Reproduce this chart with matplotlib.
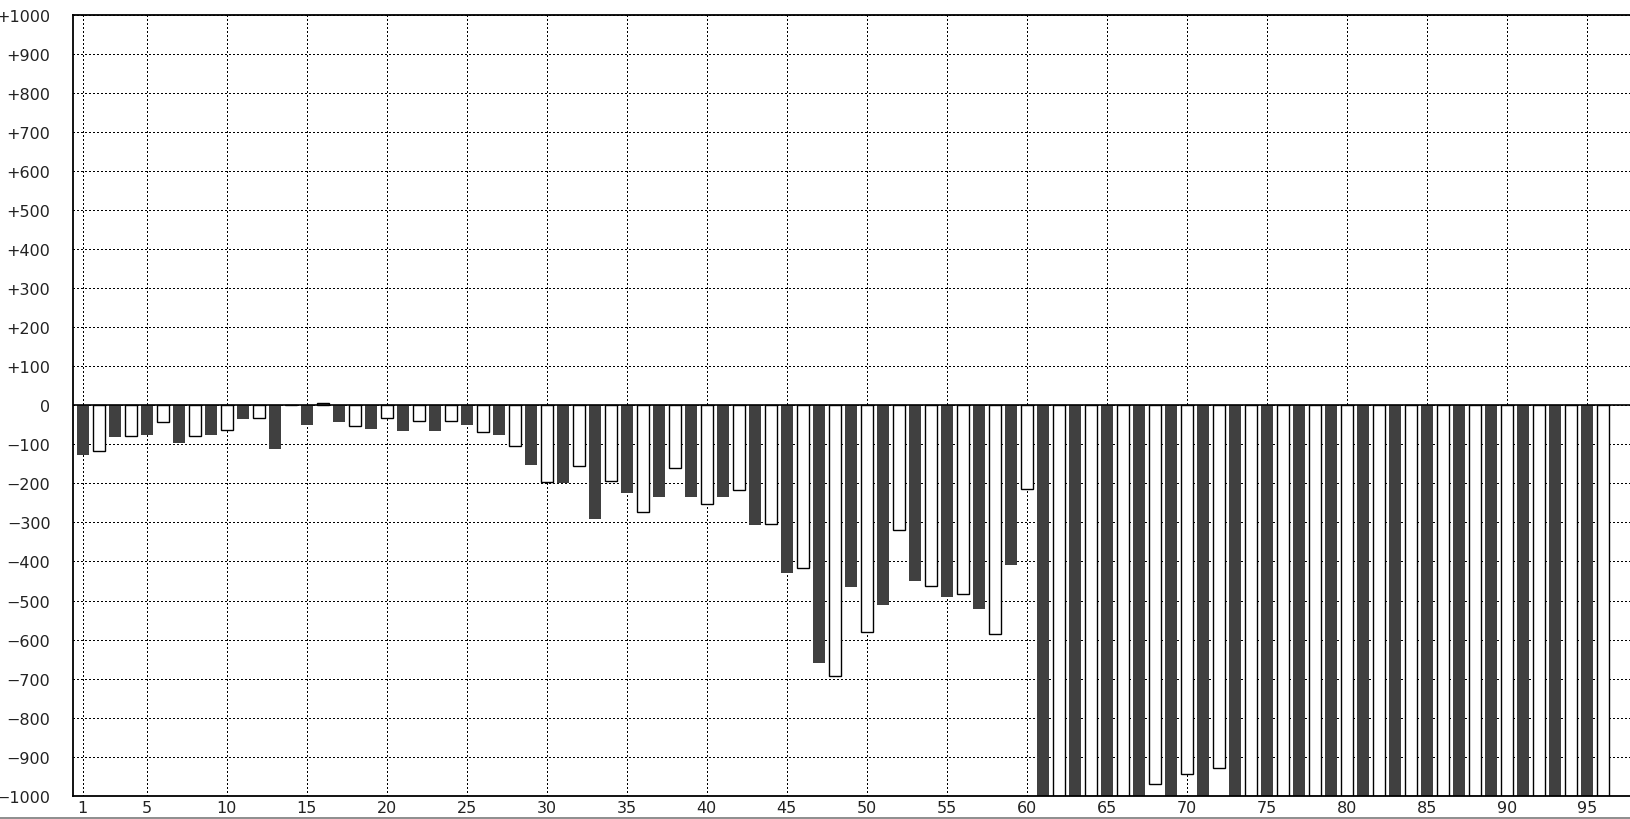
import matplotlib
matplotlib.use('Agg')
import matplotlib.pyplot as plt
from matplotlib.patches import Rectangle

# bar values per position (odd = dark bars, even = white bars)
positions = list(range(1, 97))
values = [-127, -118, -80, -79, -75, -43, -96, -79, -75, -64,
          -35, -33, -111, 0, -50, 5, -43, -53, -60, -33,
          -65, -39, -65, -39, -50, -69, -75, -105, -152, -197,
          -198, -156, -291, -195, -224, -273, -234, -161, -234, -253,
          -234, -217, -306, -304, -429, -417, -659, -693, -465, -581,
          -511, -320, -449, -463, -490, -483, -521, -586, -408, -215,
          -1000, -1000, -1000, -1000, -1000, -1000, -1000, -970, -1000, -944,
          -1000, -929, -1000, -1000, -1000, -1000, -1000, -1000, -1000, -1000,
          -1000, -1000, -1000, -1000, -1000, -1000, -1000, -1000, -1000, -1000,
          -1000, -1000, -1000, -1000, -1000, -1000]
xticks = [1] + list(range(5, 100, 5))
yticks = list(range(-1000, 1001, 100))
ylabels = ['0' if v == 0 else ('+%d' % v if v > 0 else '\u2212%d' % -v) for v in yticks]

fig = plt.figure(figsize=(16.3, 8.2), dpi=100)
ax = fig.add_axes([72.7 / 1630, 1 - 796.7 / 820, 1 - 72.7 / 1630, (796.7 - 16) / 820])

dark_x = [p for p in positions if p % 2 == 1]
dark_v = [values[p - 1] for p in dark_x]
white_x = [p for p in positions if p % 2 == 0]
white_v = [values[p - 1] for p in white_x]

ax.bar(dark_x, dark_v, width=0.75, color='#404040', linewidth=0, zorder=2)
ax.bar(white_x, white_v, width=0.75, facecolor='white', edgecolor='black', linewidth=1.0, zorder=2)
ax.axhline(0, color='black', linewidth=1.2, zorder=3)

ax.set_xlim(0.375, 1 + (1630 - 82.7) / 16)
ax.set_ylim(-1000, 1000)
ax.set_xticks(xticks)
ax.set_yticks(yticks)
ax.set_yticklabels(ylabels)
ax.tick_params(axis='both', length=0, labelsize=11.5, colors='#222222')
ax.tick_params(axis='y', pad=16)
ax.tick_params(axis='x', pad=3)

# crisp dotted grid, 1px dots every 3px
ax.grid(True, color='black', linestyle=(0, (1, 2)), linewidth=0.75,
        antialiased=False, zorder=0)
ax.set_axisbelow(True)

for side in ['left', 'top', 'bottom']:
    ax.spines[side].set_linewidth(1.3)
    ax.spines[side].set_color('black')
ax.spines['right'].set_visible(False)

# thin grey strip along the bottom edge
fig.patches.append(Rectangle((0, 0), 1, 2.5 / 820, transform=fig.transFigure,
                             facecolor='#909090', edgecolor='none'))

plt.savefig('out.png', dpi=100)
